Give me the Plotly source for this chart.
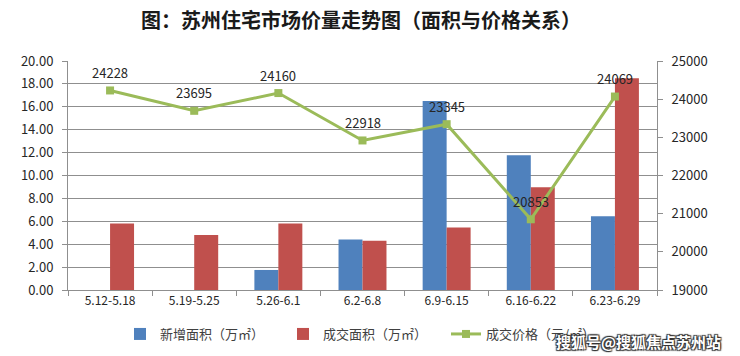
import plotly.graph_objects as go

categories = ["5.12-5.18", "5.19-5.25", "5.26-6.1", "6.2-6.8", "6.9-6.15", "6.16-6.22", "6.23-6.29"]
new_area = [None, None, 1.75, 4.4, 16.5, 11.76, 6.45]
deal_area = [5.8, 4.8, 5.8, 4.3, 5.45, 8.97, 18.49]
deal_price = [24228, 23695, 24160, 22918, 23345, 20853, 24069]
left_ticks = [0, 2, 4, 6, 8, 10, 12, 14, 16, 18, 20]
right_ticks = [19000, 20000, 21000, 22000, 23000, 24000, 25000]

FONT = "Noto Sans CJK SC"
GRID = "#8f8f8f"

# plot area in pixels
PL, PR, PT, PB = 68, 657, 61, 290


def px(x):
    return (x - PL) / (PR - PL)


def py(y):
    return (PB - y) / (PB - PT)


fig = go.Figure()
fig.add_trace(go.Bar(x=categories, y=new_area, name="新增面积（万㎡）",
                     marker=dict(color="#4F81BD", line=dict(width=0)), yaxis="y"))
fig.add_trace(go.Bar(x=categories, y=deal_area, name="成交面积（万㎡）",
                     marker=dict(color="#C0504D", line=dict(width=0)), yaxis="y"))
fig.add_trace(go.Scatter(x=categories, y=deal_price, name="成交价格（元/㎡）", yaxis="y2",
                         mode="lines+markers",
                         line=dict(color="#9BBB59", width=3),
                         marker=dict(symbol="square", size=8, color="#9BBB59")))

for c, p in zip(categories, deal_price):
    fig.add_annotation(x=c, y=p, xref="x", yref="y2", text=str(p), showarrow=False,
                       yshift=18, font=dict(family=FONT, size=13, color="#262626"))

fig.add_annotation(text="图：苏州住宅市场价量走势图（面积与价格关系）", xref="paper", yref="paper",
                   x=px(361), y=py(19), showarrow=False, xanchor="center", yanchor="middle",
                   font=dict(family=FONT, size=20, color="#1a1a1a", weight="bold"))

fig.add_annotation(text="搜狐号@搜狐焦点苏州站", xref="paper", yref="paper",
                   x=px(723), y=py(341), showarrow=False, xanchor="right", yanchor="middle",
                   font=dict(family=FONT, size=15, color="#ffffff", weight="bold",
                             shadow="1px 1px 1px #333, -1px -1px 1px #333, 1px -1px 1px #333, -1px 1px 1px #333"))

fig.update_layout(
    width=740, height=356,
    margin=dict(l=PL, r=740 - PR, t=PT, b=356 - PB, autoexpand=False),
    paper_bgcolor="white", plot_bgcolor="white",
    barmode="group", bargap=0.43, bargroupgap=0,
    font=dict(family=FONT, size=12, color="#404040"),
    showlegend=True,
    legend=dict(orientation="h", xref="container", yref="container",
                x=120 / 740, y=1 - 334 / 356, xanchor="left", yanchor="middle",
                font=dict(family=FONT, size=13, color="#404040"),
                entrywidth=118, traceorder="normal", itemwidth=30),
    xaxis=dict(type="category", showline=True, linecolor=GRID, linewidth=1,
               ticks="outside", tickson="boundaries", ticklen=5, tickcolor=GRID,
               showgrid=False, tickfont=dict(family=FONT, size=12, color="#262626")),
    yaxis=dict(range=[0, 20], tickvals=left_ticks, tickformat=".2f",
               showline=True, linecolor=GRID, linewidth=1,
               ticks="outside", ticklen=5, tickcolor=GRID, ticklabelstandoff=6,
               showgrid=True, gridcolor=GRID, gridwidth=1, zeroline=False,
               tickfont=dict(family=FONT, size=13, color="#262626")),
    yaxis2=dict(range=[19000, 25000], tickvals=right_ticks, tickformat="d",
                overlaying="y", side="right",
                showline=True, linecolor=GRID, linewidth=1,
                ticks="outside", ticklen=5, tickcolor=GRID, ticklabelstandoff=6,
                showgrid=False, zeroline=False,
                tickfont=dict(family=FONT, size=13, color="#262626")),
)

fig.write_html("out.html", config={"displayModeBar": False},
               post_script="document.body.style.margin='0';document.body.style.overflow='hidden';")
